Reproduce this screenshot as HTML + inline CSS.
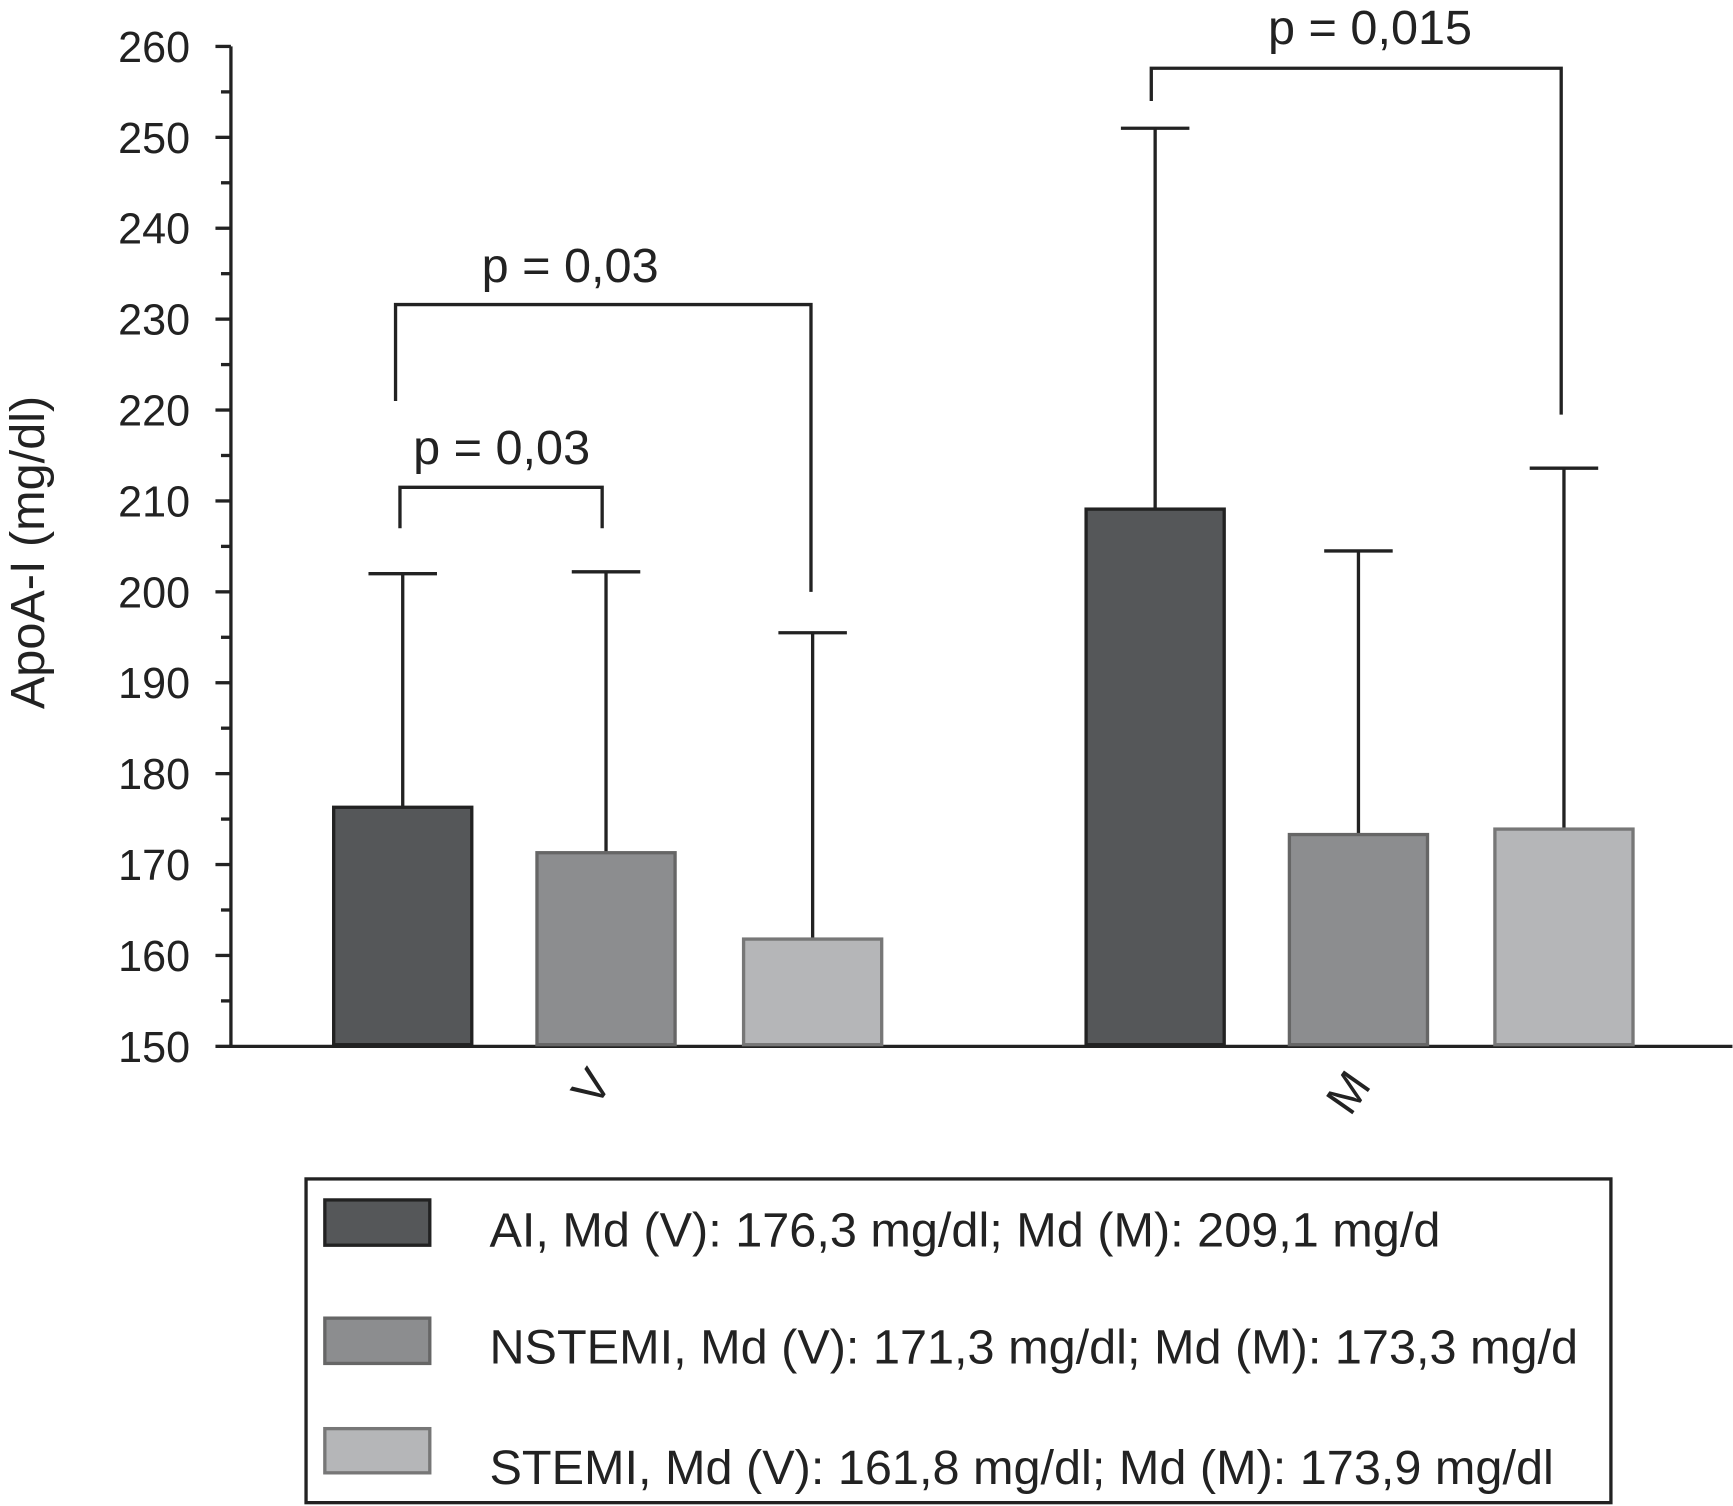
<!DOCTYPE html>
<html><head><meta charset="utf-8"><style>
body{margin:0;background:#fff}
svg{display:block;font-family:"Liberation Sans",sans-serif}
</style></head><body>
<svg id="chart" width="1733" height="1506" viewBox="0 0 1568.5 1363" xmlns="http://www.w3.org/2000/svg">
<g id="axes"></g><g id="bars"></g><g id="ann"></g>
<text transform="translate(40,500) rotate(-90)" text-anchor="middle" font-size="44" fill="#222">ApoA-I (mg/dl)</text>
<g>
<rect x="277" y="1067" width="1181" height="293" fill="none" stroke="#222" stroke-width="3"/>
<rect x="294" y="1086" width="95" height="41" fill="#555759" stroke="#222" stroke-width="3"/>
<text x="443" y="1128" font-size="44" fill="#222">AI, Md (V): 176,3 mg/dl; Md (M): 209,1 mg/d</text>
<rect x="294" y="1193" width="95" height="41" fill="#8c8d8f" stroke="#666" stroke-width="3"/>
<text x="443" y="1234" font-size="44" fill="#222">NSTEMI, Md (V): 171,3 mg/dl; Md (M): 173,3 mg/d</text>
<rect x="294" y="1293" width="95" height="40" fill="#b5b6b8" stroke="#777" stroke-width="3"/>
<text x="443" y="1343" font-size="44" fill="#222">STEMI, Md (V): 161,8 mg/dl; Md (M): 173,9 mg/dl</text>
</g>
</svg>
<script>
const groups = ["V","M"];
const seriesNames = ["AI","NSTEMI","STEMI"];
const medianV = [176.3, 171.3, 161.8];
const medianM = [209.1, 173.3, 173.9];
const errTopV = [202.0, 202.2, 195.5];
const errTopM = [251.0, 204.5, 213.6];
const yTicks = [150,160,170,180,190,200,210,220,230,240,250,260];

const NS="http://www.w3.org/2000/svg";
const y0=947, yTop=42, vMin=150, vMax=260;
const y=v=>y0-(v-vMin)/(vMax-vMin)*(y0-yTop);
const barLeft=[[302,486,673],[983,1167,1353]];
const barW=125;
const fills=["#555759","#8c8d8f","#b5b6b8"];
const strokes=["#222","#666","#777"];
function el(tag,attrs,parent){const e=document.createElementNS(NS,tag);for(const k in attrs)e.setAttribute(k,attrs[k]);parent.appendChild(e);return e;}
const axes=document.getElementById('axes');
const a1=el('line',{x1:209,y1:y(260),x2:209,y2:y0,stroke:'#222','stroke-width':3},axes);


const a2=el('line',{x1:207.5,y1:y0,x2:1568,y2:y0,stroke:'#222','stroke-width':3},axes);


for(let v=150;v<=260;v+=5){
  const major=v%10===0;
  const t=el('line',{x1:major?195:200,y1:y(v),x2:209,y2:y(v),stroke:'#222','stroke-width':3},axes);
  
  
}
yTicks.forEach(v=>{
  const t=el('text',{x:172,y:y(v)+14,'text-anchor':'end','font-size':39,fill:'#222'},axes);
  t.textContent=v;
  
  
});
const xl=[[547,992],[1232,997]];
groups.forEach((g,i)=>{
  const t=el('text',{transform:`translate(${xl[i][0]},${xl[i][1]}) rotate(-55)`,'text-anchor':'middle','font-size':42,fill:'#222'},axes);
  t.textContent=g;
  
  
});
const bars=document.getElementById('bars');
const meds=[medianV,medianM], errs=[errTopV,errTopM];
groups.forEach((g,gi)=>{
  seriesNames.forEach((s,si)=>{
    const x=barLeft[gi][si], cx=x+barW/2, v=meds[gi][si], e=errs[gi][si];
    const eb=el('path',{d:`M${cx},${y(v)} V${y(e)} M${cx-31},${y(e)} H${cx+31}`,stroke:'#222','stroke-width':3,fill:'none'},bars);
    
    
    const r=el('rect',{x:x,y:y(v),width:barW,height:y0-1.5-y(v),fill:fills[si],stroke:strokes[si],'stroke-width':3},bars);
    
    
  });
});
const ann=document.getElementById('ann');
const brackets=[
  {x1:362,x2:545,top:211.5,l:207,r:207,label:"p = 0,03",tx:454,ty:405},
  {x1:358,x2:734,top:231.6,l:221,r:200,label:"p = 0,03",tx:516,ty:240},
  {x1:1042,x2:1413,top:257.6,l:254,r:219.5,label:"p = 0,015",tx:1240,ty:25}
];
brackets.forEach((b,i)=>{
  const p=el('path',{d:`M${b.x1},${y(b.l)} V${y(b.top)} H${b.x2} V${y(b.r)}`,stroke:'#222','stroke-width':3,fill:'none'},ann);
  
  
  const t=el('text',{x:b.tx,y:b.ty+15,'text-anchor':'middle','font-size':44,fill:'#222'},ann);
  t.textContent=b.label;
  
  
});
</script>
</body></html>
